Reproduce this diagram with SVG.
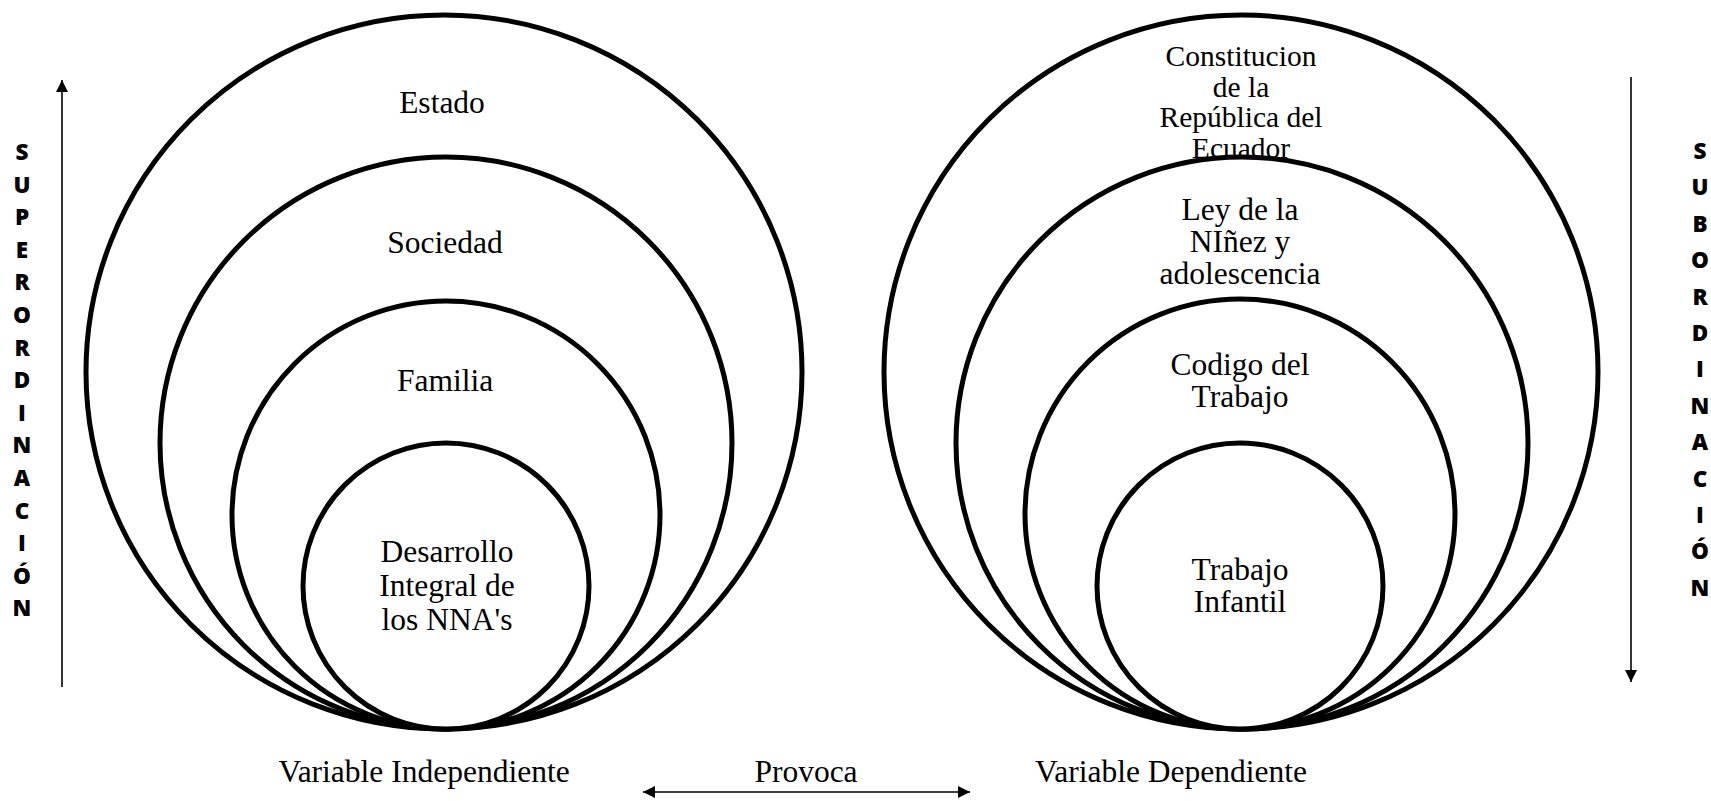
<svg xmlns="http://www.w3.org/2000/svg" width="1711" height="801" viewBox="0 0 1711 801">
<defs>
<style>
.c{fill:#fff;stroke:#000;stroke-width:5}
.t{font-family:"Liberation Serif","Times New Roman",serif;font-size:31.5px;fill:#000;text-anchor:middle}
.s{font-family:"Open Sans","Liberation Sans",sans-serif;font-size:22.5px;font-weight:800;fill:#000;text-anchor:middle}
.a{stroke:#000;stroke-width:1.6;fill:none}
</style>
<marker id="ah2" viewBox="0 0 10 10" refX="10" refY="5" markerWidth="15" markerHeight="12" orient="auto-start-reverse" markerUnits="userSpaceOnUse">
<path d="M0,0 L10,5 L0,10 z" fill="#000"/>
</marker>
</defs>
<rect width="1711" height="801" fill="#fff"/>

<g id="left-circles">
<g id="estado">
<ellipse class="c" cx="444" cy="372" rx="358" ry="357"/>
<text class="t" x="442" y="113">Estado</text>
</g>
<g id="sociedad">
<circle class="c" cx="446" cy="443" r="286"/>
<text class="t" x="445" y="253">Sociedad</text>
</g>
<g id="familia">
<circle class="c" cx="446" cy="515" r="214"/>
<text class="t" x="445" y="391">Familia</text>
</g>
<g id="desarrollo">
<circle class="c" cx="446" cy="586" r="143"/>
<text class="t" x="447" y="562">Desarrollo</text>
<text class="t" x="447" y="596">Integral de</text>
<text class="t" x="447" y="630">los NNA's</text>
</g>
</g>

<g id="right-circles">
<g id="constitucion">
<circle class="c" cx="1241" cy="372" r="357"/>
<text class="t" style="font-size:29.5px" x="1241" y="66">Constitucion</text>
<text class="t" style="font-size:29.5px" x="1241" y="97">de la</text>
<text class="t" style="font-size:29.5px" x="1241" y="127">República del</text>
<text class="t" style="font-size:29.5px" x="1241" y="158">Ecuador</text>
</g>
<g id="ley">
<circle class="c" cx="1242" cy="443" r="286"/>
<text class="t" x="1240" y="220">Ley de la</text>
<text class="t" x="1240" y="252">NIñez y</text>
<text class="t" x="1240" y="284">adolescencia</text>
</g>
<g id="codigo">
<circle class="c" cx="1240" cy="514" r="215"/>
<text class="t" x="1240" y="375">Codigo del</text>
<text class="t" x="1240" y="407">Trabajo</text>
</g>
<g id="trabajo-infantil">
<circle class="c" cx="1240" cy="586" r="143"/>
<text class="t" x="1240" y="580">Trabajo</text>
<text class="t" x="1240" y="612">Infantil</text>
</g>
</g>

<g id="connectors">
<line class="a" x1="62" y1="687" x2="62" y2="80" marker-end="url(#ah2)"/>
<line class="a" x1="1631" y1="77" x2="1631" y2="682" marker-end="url(#ah2)"/>
<line class="a" x1="643" y1="792" x2="970" y2="792" marker-start="url(#ah2)" marker-end="url(#ah2)"/>
</g>

<g id="labels">
<text class="t" x="424" y="782">Variable Independiente</text>
<text class="t" x="806" y="782">Provoca</text>
<text class="t" x="1171" y="782">Variable Dependiente</text>
</g>

<g id="superordinacion">
<text class="s" x="22" y="160">S</text>
<text class="s" x="22" y="193">U</text>
<text class="s" x="22" y="225">P</text>
<text class="s" x="22" y="258">E</text>
<text class="s" x="22" y="290">R</text>
<text class="s" x="22" y="323">O</text>
<text class="s" x="22" y="356">R</text>
<text class="s" x="22" y="388">D</text>
<text class="s" x="22" y="421">I</text>
<text class="s" x="22" y="453">N</text>
<text class="s" x="22" y="486">A</text>
<text class="s" x="22" y="519">C</text>
<text class="s" x="22" y="551">I</text>
<text class="s" x="22" y="584">Ó</text>
<text class="s" x="22" y="616">N</text>
</g>

<g id="subordinacion">
<text class="s" x="1700" y="159">S</text>
<text class="s" x="1700" y="195">U</text>
<text class="s" x="1700" y="232">B</text>
<text class="s" x="1700" y="268">O</text>
<text class="s" x="1700" y="305">R</text>
<text class="s" x="1700" y="341">D</text>
<text class="s" x="1700" y="377">I</text>
<text class="s" x="1700" y="414">N</text>
<text class="s" x="1700" y="450">A</text>
<text class="s" x="1700" y="487">C</text>
<text class="s" x="1700" y="523">I</text>
<text class="s" x="1700" y="559">Ó</text>
<text class="s" x="1700" y="596">N</text>
</g>
</svg>
